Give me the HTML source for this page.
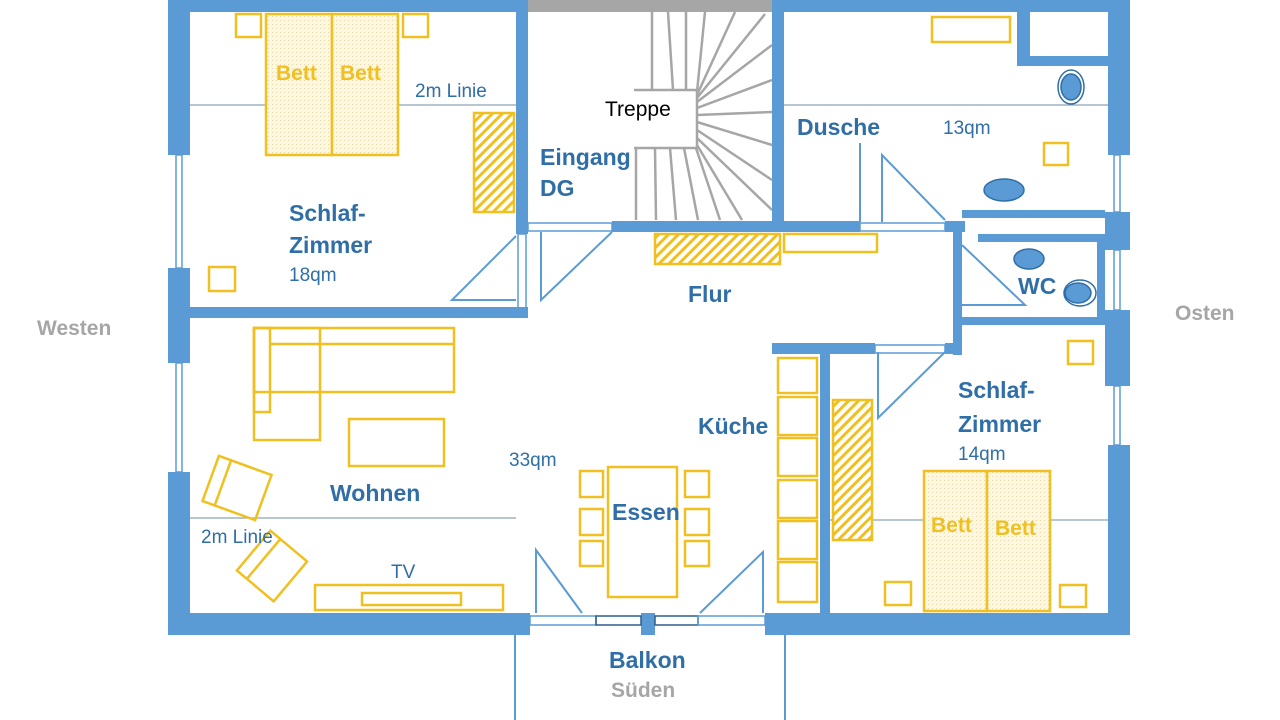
<!DOCTYPE html>
<html><head><meta charset="utf-8"><style>
html,body{margin:0;padding:0;background:#fff;}
svg{display:block;}
text{font-family:"Liberation Sans",sans-serif;}
.b{fill:#2f6ea6;font-weight:bold;font-size:23px;}
.r{fill:#2f6ea6;font-size:19px;}
.g{fill:#a6a6a6;font-weight:bold;font-size:21px;}
.y{fill:#f0c020;font-weight:bold;font-size:21px;}
</style></head><body>
<svg width="1280" height="720" viewBox="0 0 1280 720" xmlns="http://www.w3.org/2000/svg">
<defs>
<pattern id="h" width="7" height="7" patternUnits="userSpaceOnUse" patternTransform="rotate(45)"><rect width="7" height="7" fill="#fff"/><rect width="3" height="7" fill="#f0c020"/></pattern>
<pattern id="d" width="4" height="4" patternUnits="userSpaceOnUse"><rect width="4" height="4" fill="#fdf6e0"/><rect width="1" height="1" fill="#e6d9a8"/></pattern>
</defs>
<g stroke="#8aa4b8" stroke-width="1.2">
<line x1="190" y1="105" x2="516" y2="105"/><line x1="784" y1="105" x2="1108" y2="105"/>
<line x1="190" y1="518" x2="516" y2="518"/><line x1="830" y1="520" x2="1108" y2="520"/>
</g>
<g stroke="#a6a6a6" stroke-width="2.5" fill="none">
<rect x="528" y="0" width="244" height="12" fill="#a6a6a6" stroke="none"/>
<polyline points="634,90 697,90 697,148 634,148"/>
<line x1="652" y1="12" x2="652" y2="90"/><line x1="668" y1="12" x2="673" y2="90"/><line x1="686" y1="12" x2="686" y2="90"/>
<line x1="697" y1="92" x2="705" y2="12"/><line x1="697" y1="95" x2="735" y2="12"/><line x1="697" y1="98" x2="765" y2="14"/>
<line x1="697" y1="102" x2="772" y2="45"/><line x1="697" y1="108" x2="772" y2="80"/><line x1="697" y1="115" x2="772" y2="112"/>
<line x1="697" y1="122" x2="772" y2="145"/><line x1="697" y1="130" x2="772" y2="180"/><line x1="697" y1="138" x2="772" y2="210"/>
<line x1="697" y1="145" x2="742" y2="220"/>
<line x1="636" y1="148" x2="636" y2="220"/><line x1="655" y1="148" x2="656" y2="220"/><line x1="670" y1="148" x2="676" y2="220"/><line x1="684" y1="148" x2="698" y2="220"/><line x1="696" y1="148" x2="720" y2="220"/>
</g>
<g fill="#5b9bd5">
<rect x="168" y="0" width="360" height="12"/><rect x="772" y="0" width="358" height="12"/>
<rect x="168" y="0" width="22" height="155"/><rect x="168" y="268" width="22" height="95"/><rect x="168" y="472" width="22" height="163"/>
<rect x="1108" y="0" width="22" height="155"/><rect x="1105" y="212" width="25" height="38"/><rect x="1105" y="310" width="25" height="76"/><rect x="1108" y="445" width="22" height="190"/>
<rect x="168" y="613" width="362" height="22"/><rect x="765" y="613" width="365" height="22"/>
<rect x="641" y="613" width="14" height="22"/>
<rect x="516" y="0" width="12" height="234"/><rect x="190" y="307" width="338" height="11"/>
<rect x="772" y="0" width="12" height="232"/>
<rect x="612" y="221" width="248" height="11"/><rect x="945" y="221" width="20" height="11"/>
<rect x="1017" y="12" width="13" height="54"/><rect x="1017" y="56" width="91" height="10"/>
<rect x="962" y="210" width="143" height="8"/><rect x="978" y="234" width="127" height="8"/>
<rect x="953" y="222" width="9" height="133"/><rect x="955" y="317" width="153" height="8"/><rect x="1097" y="240" width="8" height="80"/>
<rect x="772" y="343" width="103" height="11"/><rect x="945" y="343" width="17" height="11"/><rect x="820" y="343" width="10" height="270"/>
</g>
<g fill="none" stroke="#5b9bd5" stroke-width="1.5">
<rect x="176" y="155" width="6" height="113"/><rect x="176" y="363" width="6" height="109"/>
<rect x="1114" y="155" width="6" height="57"/><rect x="1114" y="250" width="6" height="60"/><rect x="1114" y="386" width="6" height="59"/>
<rect x="530" y="616" width="66" height="9"/><rect x="596" y="616" width="45" height="9" stroke="#2f5e8a"/><rect x="655" y="616" width="43" height="9" stroke="#2f5e8a"/><rect x="698" y="616" width="67" height="9"/>
<rect x="528" y="223" width="84" height="8"/><rect x="860" y="223" width="85" height="8"/><rect x="875" y="345" width="70" height="8"/>
<rect x="518" y="234" width="8" height="80"/><rect x="955" y="244" width="6" height="72"/>
</g>
<g fill="none" stroke="#5b9bd5" stroke-width="2">
<polyline points="516,236 452,300 516,300"/>
<polyline points="541,232 541,300 612,232"/>
<line x1="860" y1="143" x2="860" y2="222"/><polyline points="882,222 882,155 945,220"/>
<polyline points="962,245 1025,305 962,305"/>
<polyline points="878,352 878,418 945,352"/>
<polyline points="536,613 536,550 582,613"/><polyline points="763,613 763,552 700,613"/>
<line x1="515" y1="635" x2="515" y2="720"/><line x1="785" y1="635" x2="785" y2="720"/>
</g>
<g fill="#5b9bd5" stroke="#2f6ea6" stroke-width="1.5">
<ellipse cx="1071" cy="87" rx="13" ry="17" fill="#fff"/><ellipse cx="1071" cy="87" rx="10" ry="13"/>
<ellipse cx="1004" cy="190" rx="20" ry="11"/><ellipse cx="1029" cy="259" rx="15" ry="10"/>
<ellipse cx="1080" cy="293" rx="16" ry="13" fill="#fff"/><ellipse cx="1078" cy="293" rx="13" ry="10"/>
</g>
<g fill="none" stroke="#f0c020" stroke-width="2.5">
<rect x="236" y="14" width="25" height="23"/><rect x="403" y="14" width="25" height="23"/>
<rect x="266" y="14" width="66" height="141" fill="url(#d)"/><rect x="332" y="14" width="66" height="141" fill="url(#d)"/>
<rect x="474" y="113" width="40" height="99" fill="url(#h)"/><rect x="209" y="267" width="26" height="24"/>
<rect x="932" y="17" width="78" height="25"/><rect x="1044" y="143" width="24" height="22"/>
<rect x="655" y="234" width="125" height="30" fill="url(#h)"/><rect x="784" y="234" width="93" height="18"/>
<rect x="254" y="328" width="66" height="112"/><rect x="254" y="328" width="200" height="64"/><line x1="270" y1="344" x2="454" y2="344"/><rect x="254" y="328" width="16" height="84"/>
<rect x="349" y="419" width="95" height="47"/>
<g transform="translate(237,488) rotate(20)"><rect x="-28" y="-24" width="56" height="48"/><line x1="-15" y1="-24" x2="-15" y2="24"/></g>
<g transform="translate(272,566) rotate(-50)"><rect x="-26" y="-24" width="52" height="48"/><line x1="-26" y1="-11" x2="26" y2="-11"/></g>
<rect x="315" y="585" width="188" height="25"/><rect x="362" y="593" width="99" height="12"/>
<rect x="608" y="467" width="69" height="130"/>
<rect x="580" y="471" width="23" height="26"/><rect x="580" y="509" width="23" height="26"/><rect x="580" y="541" width="23" height="25"/>
<rect x="685" y="471" width="24" height="26"/><rect x="685" y="509" width="24" height="26"/><rect x="685" y="541" width="24" height="25"/>
<rect x="778" y="358" width="39" height="35"/><rect x="778" y="397" width="39" height="38"/><rect x="778" y="438" width="39" height="38"/><rect x="778" y="480" width="39" height="38"/><rect x="778" y="521" width="39" height="38"/><rect x="778" y="562" width="39" height="40"/>
<rect x="833" y="400" width="39" height="140" fill="url(#h)"/>
<rect x="1068" y="341" width="25" height="23"/>
<rect x="924" y="471" width="63" height="140" fill="url(#d)"/><rect x="987" y="471" width="63" height="140" fill="url(#d)"/>
<rect x="885" y="582" width="26" height="23"/><rect x="1060" y="585" width="26" height="22"/>
</g>
<text class="y" x="276" y="80">Bett</text><text class="y" x="340" y="80">Bett</text>
<text class="y" x="931" y="532">Bett</text><text class="y" x="995" y="535">Bett</text>
<text class="r" x="415" y="97">2m Linie</text><text class="r" x="201" y="543">2m Linie</text>
<text class="b" x="289" y="221">Schlaf-</text><text class="b" x="289" y="253">Zimmer</text><text class="r" x="289" y="281">18qm</text>
<text class="b" x="540" y="165">Eingang</text><text class="b" x="540" y="196">DG</text>
<text x="605" y="116" style="font-size:21px;fill:#000">Treppe</text>
<text class="b" x="797" y="135">Dusche</text><text class="r" x="943" y="134">13qm</text>
<text class="b" x="688" y="302">Flur</text><text class="b" x="1018" y="294">WC</text>
<text class="b" x="698" y="434">Küche</text><text class="r" x="509" y="466">33qm</text>
<text class="b" x="330" y="501">Wohnen</text><text class="b" x="612" y="520">Essen</text>
<text class="r" x="391" y="578">TV</text>
<text class="b" x="958" y="398">Schlaf-</text><text class="b" x="958" y="432">Zimmer</text><text class="r" x="958" y="460">14qm</text>
<text class="b" x="609" y="668">Balkon</text><text class="g" x="611" y="697">Süden</text>
<text class="g" x="37" y="335">Westen</text><text class="g" x="1175" y="320">Osten</text>
</svg>
</body></html>
